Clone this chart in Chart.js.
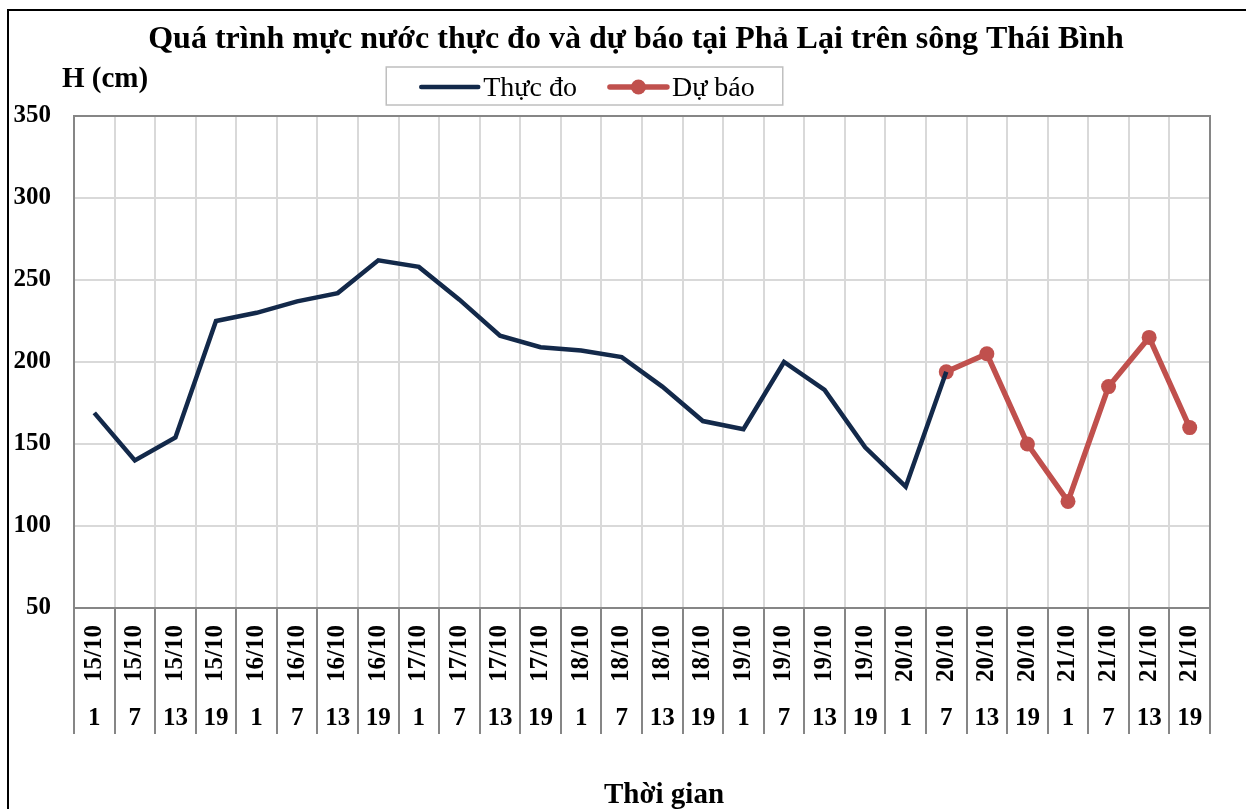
<!DOCTYPE html>
<html>
<head>
<meta charset="utf-8">
<title>Mực nước Phả Lại</title>
<script src="https://cdn.jsdelivr.net/npm/chart.js@4.4.0/dist/chart.umd.min.js"></script>
<style>
  html, body { margin: 0; padding: 0; background: #fff; }
  #wrap { position: relative; width: 1246px; height: 809px; overflow: hidden; }
  #frame { position: absolute; left: 7px; top: 9px; width: 1400px; height: 1000px;
           border-left: 2px solid #000; border-top: 2px solid #000; pointer-events: none; }
</style>
</head>
<body>
<div id="wrap">
  <canvas id="chart" width="1246" height="809"></canvas>
  <div id="frame"></div>
</div>
<script>
const chartTitle = 'Quá trình mực nước thực đo và dự báo tại Phả Lại trên sông Thái Bình';
const yTitle = 'H (cm)';
const xTitle = 'Thời gian';

// two-level category axis: date (rotated) and hour
const dateLabels = [
    '15/10', '15/10', '15/10', '15/10',
    '16/10', '16/10', '16/10', '16/10',
    '17/10', '17/10', '17/10', '17/10',
    '18/10', '18/10', '18/10', '18/10',
    '19/10', '19/10', '19/10', '19/10',
    '20/10', '20/10', '20/10', '20/10',
    '21/10', '21/10', '21/10', '21/10'
];
const hourLabels = [
    '1', '7', '13', '19', '1', '7', '13', '19',
    '1', '7', '13', '19', '1', '7', '13', '19',
    '1', '7', '13', '19', '1', '7', '13', '19',
    '1', '7', '13', '19'
];

// H (cm)
const measured = [169, 140, 154, 225, 230, 237, 242, 262, 258, 238, 216, 209, 207, 203,
                  185, 164, 159, 200, 183, 148, 124, 194,
                  null, null, null, null, null, null];
const forecast = [null, null, null, null, null, null, null, null, null, null, null,
                  null, null, null, null, null, null, null, null, null, null,
                  194, 205, 150, 115, 185, 215, 160];

const yMin = 50, yMax = 350, yStep = 50;

const SERIF = "'Liberation Serif', 'Times New Roman', serif";
const NAVY = '#13294a';
const RED = '#c0504d';
const GRID = '#d9d9d9';
const AXIS = '#868686';

// draws the plot frame, titles and the boxed legend
const decorPlugin = {
    id: 'decor',
    beforeDatasetsDraw(chart) {
        const ctx = chart.ctx, a = chart.chartArea;
        ctx.save();
        ctx.strokeStyle = AXIS;
        ctx.lineWidth = 2;
        ctx.strokeRect(a.left, a.top, a.right - a.left, a.bottom - a.top);
        ctx.restore();
    },
    afterDraw(chart) {
        const ctx = chart.ctx, a = chart.chartArea;
        const mid = (a.left + a.right) / 2;
        ctx.save();
        ctx.fillStyle = '#000';
        ctx.textBaseline = 'alphabetic';

        ctx.textAlign = 'center';
        ctx.font = 'bold 32px ' + SERIF;
        ctx.fillText(chartTitle, mid - 6, 48);

        ctx.font = 'bold 29px ' + SERIF;
        ctx.fillText(xTitle, mid + 22, 803);

        ctx.textAlign = 'left';
        ctx.font = 'bold 29px ' + SERIF;
        ctx.fillText(yTitle, 62, 87);

        // legend
        const sets = chart.data.datasets;
        ctx.font = '28px ' + SERIF;
        const markW = 57, gapText = 5, gapItem = 33;
        let total = 0;
        sets.forEach((ds, i) => {
            total += markW + gapText + ctx.measureText(ds.label).width;
            if (i < sets.length - 1) total += gapItem;
        });
        let x = 588 - total / 2;
        const ly = 87;
        ctx.strokeStyle = '#bfbfbf';
        ctx.lineWidth = 1.5;
        ctx.strokeRect(x - 35, 67, total + 63, 38);
        sets.forEach(ds => {
            ctx.strokeStyle = ds.borderColor;
            ctx.lineWidth = ds.borderWidth;
            ctx.lineCap = 'round';
            ctx.beginPath();
            ctx.moveTo(x, ly);
            ctx.lineTo(x + markW, ly);
            ctx.stroke();
            if (ds.pointRadius > 0) {
                ctx.fillStyle = ds.pointBackgroundColor;
                ctx.beginPath();
                ctx.arc(x + markW / 2, ly, ds.pointRadius, 0, Math.PI * 2);
                ctx.fill();
            }
            x += markW + gapText;
            ctx.fillStyle = '#000';
            ctx.fillText(ds.label, x, 96);
            x += ctx.measureText(ds.label).width + gapItem;
        });
        ctx.restore();
    }
};

const tickFont = { family: SERIF, size: 25, weight: 'bold' };

// fixed band heights for the two label rows, no side padding
function fitBand(h) {
    return function(scale) {
        scale.height = h;
        scale.paddingLeft = 0;
        scale.paddingRight = 0;
    };
}

new Chart(document.getElementById('chart'), {
    type: 'line',
    data: {
        labels: dateLabels,
        datasets: [
            {
                label: 'Thực đo',
                data: measured,
                borderColor: NAVY,
                backgroundColor: NAVY,
                borderWidth: 4.5,
                pointRadius: 0,
                tension: 0
            },
            {
                label: 'Dự báo',
                data: forecast,
                borderColor: RED,
                backgroundColor: RED,
                pointBackgroundColor: RED,
                pointBorderColor: RED,
                borderWidth: 5.5,
                pointRadius: 7.5,
                pointBorderWidth: 0,
                tension: 0
            }
        ]
    },
    options: {
        responsive: false,
        animation: false,
        layout: { padding: { top: 116, left: 13, right: 36, bottom: 75 } },
        plugins: {
            legend: { display: false },
            title: { display: false },
            tooltip: { enabled: false }
        },
        scales: {
            x: {
                type: 'category',
                position: 'bottom',
                weight: 0,
                offset: true,
                grid: {
                    offset: true,
                    color: GRID,
                    lineWidth: 2,
                    tickColor: AXIS,
                    tickWidth: 2,
                    tickLength: 74
                },
                border: { display: true, color: AXIS, width: 2 },
                ticks: {
                    autoSkip: false,
                    minRotation: 90,
                    maxRotation: 90,
                    padding: -57,
                    color: '#000',
                    font: tickFont
                },
                afterFit: fitBand(74)
            },
            x2: {
                type: 'category',
                position: 'bottom',
                weight: 1,
                labels: hourLabels,
                offset: true,
                grid: {
                    offset: true,
                    drawOnChartArea: false,
                    color: AXIS,
                    lineWidth: 2,
                    tickColor: AXIS,
                    tickWidth: 2,
                    tickLength: 52
                },
                border: { display: false },
                ticks: {
                    autoSkip: false,
                    maxRotation: 0,
                    padding: -30,
                    color: '#000',
                    font: tickFont
                },
                afterFit: fitBand(52)
            },
            y: {
                min: yMin,
                max: yMax,
                grid: { color: GRID, lineWidth: 2, drawTicks: false },
                border: { display: true, color: AXIS, width: 2 },
                ticks: {
                    stepSize: yStep,
                    padding: 23,
                    color: '#000',
                    font: tickFont
                },
                afterFit(scale) { scale.width = 61; }
            }
        }
    },
    plugins: [decorPlugin]
});
</script>
</body>
</html>
